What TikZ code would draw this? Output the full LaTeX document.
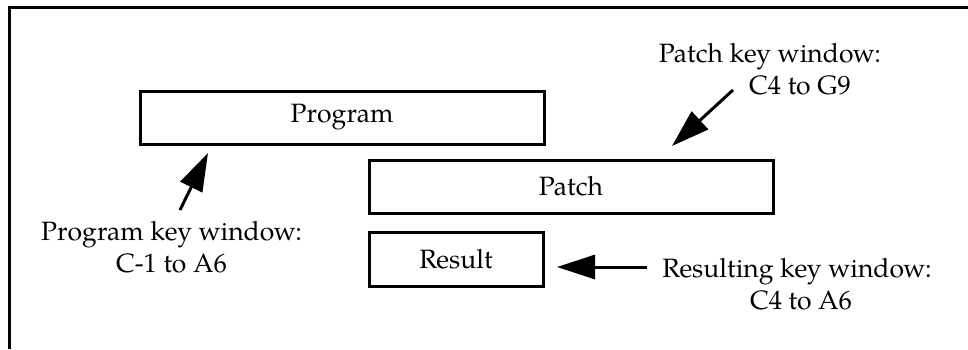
\documentclass[tikz,border=0pt]{standalone}
\usepackage{fontspec}
\setmainfont{TeX Gyre Pagella}
\usetikzlibrary{arrows.meta}
\tikzset{
  win/.style={draw, line width=3pt, inner sep=0pt, font=\fontsize{26.5}{32}\selectfont},
  note/.style={align=center, inner sep=0pt, font=\fontsize{26.5}{32}\selectfont},
  pointer/.style={line width=3pt, -{Triangle[length=38pt,width=24pt]}},
}
\begin{document}
\begin{tikzpicture}[x=1pt,y=-1pt]
  \useasboundingbox (0,0) rectangle (968,349);
  % open frame: top and left edges only
  \draw[line width=3pt] (968,7.5) -- (9.5,7.5) -- (9.5,349);

  % key windows
  \node[win, minimum width=404pt, minimum height=53pt] (prog) at (342,117.5) {Program};
  \node[win, minimum width=404pt, minimum height=53pt] (patch) at (571,186.5) {Patch};
  \node[win, minimum width=174pt, minimum height=54pt] (res) at (456,259) {Result};

  % labels
  \node[note] (progl) at (171.5,247) {Program key window:\\C-1 to A6};
  \node[note] (patchl) at (770,69) {Patch key window:\\\hspace*{60pt}C4 to G9};
  \node[note] (resl) at (797,284) {Resulting key window:\\\hspace*{8pt}C4 to A6};

  % pointer ends
  \coordinate (progtail) at (180,210);
  \coordinate (progtip) at (208,153);
  \coordinate (patchtail) at (733,90);
  \coordinate (patchtip) at (672,146);
  \coordinate (restail) at (647,267);
  \coordinate (restip) at (557,267);

  \draw[pointer] (progtail) -- (progtip);
  \draw[pointer] (patchtail) -- (patchtip);
  \draw[pointer] (restail) -- (restip);
\end{tikzpicture}
\end{document}
